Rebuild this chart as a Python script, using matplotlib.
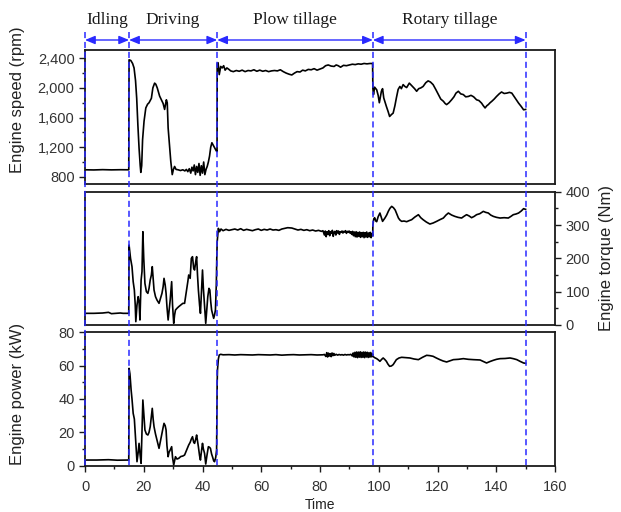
import matplotlib
matplotlib.use("Agg")
import matplotlib.pyplot as plt
import matplotlib.transforms as mtransforms
from matplotlib.lines import Line2D
from matplotlib.patches import FancyArrowPatch
from matplotlib.ticker import MultipleLocator, FuncFormatter

plt.rcParams['font.family'] = ['Liberation Sans', 'DejaVu Sans']

# ---------------- data ----------------
phase_names = ["Idling", "Driving", "Plow tillage", "Rotary tillage"]
phase_bounds = [0, 15, 45, 98, 150]

speed_t = [0, 3, 6, 9, 12, 14.9,
           15.0, 15.6, 16.2, 16.7, 17.2, 17.6, 18.0, 18.4, 18.8, 19.0, 19.3, 19.6, 20.1, 20.7, 21.3, 21.8,
           22.6, 23.1, 23.7, 24.1, 24.6, 25.4, 26.0, 26.6, 27.1, 27.7, 28.0, 28.3, 28.8, 29.2, 29.7, 30.1,
           30.5, 31.0, 31.7, 32.5, 33.3, 34.0, 34.5, 35.0, 35.5, 36.0, 36.4, 36.8, 37.2, 37.6, 38.0, 38.4,
           38.8, 39.2, 39.6, 40.0, 40.4, 40.8, 41.2, 41.6, 42.0, 42.4, 42.8, 43.2, 43.6, 44.1, 44.7, 44.95,
           45.0, 45.3, 45.7, 46.2, 46.7, 47.2, 47.7, 48.3, 49.0, 49.6, 50.5, 51.5, 52.5, 53.5, 54.5, 55.5,
           56.5, 57.5, 58.5, 59.5, 60.5, 61.5, 62.5, 63.5, 64.5, 65.5, 66.5, 67.5, 68.5, 69.5, 70.4, 71.3,
           72.2, 73.2, 74.1, 75.0, 76.0, 77.0, 78.0, 79.0, 80.0, 81.0, 81.9, 82.8, 83.8, 84.8, 85.5, 86.2,
           87.0, 88.0, 89.0, 90.0, 91.0, 92.0, 93.0, 94.0, 95.0, 96.0, 97.0, 97.9,
           98.0, 98.2, 98.6, 99.3, 99.8, 100.2, 100.9, 101.3, 101.7, 102.2, 102.6, 103.2, 103.7, 104.3,
           104.9, 105.5, 106.0, 106.6, 107.2, 107.7, 108.3, 108.9, 109.5, 110.0, 110.4, 111.0, 111.5,
           112.2, 112.9, 113.6, 114.3, 115.1, 116.0, 116.8, 117.6, 118.5, 119.4, 120.3, 121.1, 122.0,
           122.6, 123.1, 123.9, 124.8, 125.6, 126.3, 127.1, 127.9, 128.8, 129.6, 130.5, 131.4, 132.3,
           133.3, 134.1, 135.0, 135.6, 136.2, 136.8, 137.3, 137.9, 138.5, 139.3, 140.1, 141.0, 141.8,
           142.7, 143.6, 144.5, 145.3, 145.9, 146.4, 147.0, 147.6, 148.5, 149.3, 150.0]
speed_v = [895, 893, 897, 894, 896, 895,
           2380, 2370, 2330, 2270, 2100, 1860, 1500, 1190, 950, 860, 950, 1300, 1550, 1730, 1780, 1800,
           1860, 2000, 2065, 2050, 2000, 1890, 1840, 1790, 1710, 1840, 1800, 1460, 1200, 1010, 830, 900,
           940, 900, 895, 885, 895, 880, 900, 870, 910, 850, 930, 880, 960, 830, 940, 860,
           980, 820, 950, 850, 1000, 830, 900, 940, 1000, 1080, 1200, 1260, 1230, 1190, 1150, 1140,
           2330, 2340, 2180, 2290, 2270, 2300, 2240, 2270, 2250, 2230, 2220, 2235, 2225, 2240, 2220, 2235,
           2230, 2245, 2225, 2240, 2225, 2235, 2220, 2230, 2235, 2230, 2245, 2220, 2200, 2185, 2175, 2200,
           2220, 2215, 2240, 2230, 2250, 2245, 2260, 2240, 2255, 2270, 2300, 2310, 2295, 2290, 2310, 2300,
           2280, 2305, 2300, 2310, 2320, 2315, 2325, 2320, 2330, 2325, 2330, 2330,
           2000, 1910, 2010, 1975, 1900, 1800, 1955, 1990, 1865, 1800, 1750, 1680, 1615, 1640,
           1660, 1760, 1865, 1980, 2020, 1990, 2045, 2020, 2005, 2040, 2065, 2040, 2020,
           1990, 1955, 1990, 2000, 2020, 2070, 2095, 2080, 2045, 1980, 1910, 1850, 1820,
           1790, 1775, 1800, 1840, 1880, 1930, 1955, 1920, 1910, 1880, 1885, 1900, 1880,
           1840, 1830, 1795, 1760, 1730, 1760, 1775, 1800, 1820, 1850, 1885, 1920, 1945,
           1925, 1930, 1940, 1930, 1895, 1865, 1830, 1795, 1750, 1705, 1710]

torque_t = [0, 3, 6, 8, 9, 12, 13, 14.9,
            15.0, 15.5, 16.0, 16.4, 16.8, 17.1, 17.3, 17.7, 18.1, 18.4, 18.7, 19.1, 19.4, 19.7, 20.0, 20.4,
            20.9, 21.4, 21.8, 22.2, 22.6, 22.9, 23.2, 23.5, 24.0, 24.5, 25.2, 25.7, 26.2, 26.6, 26.9, 27.3,
            27.6, 27.9, 28.3, 28.6, 29.0, 29.5, 29.8, 30.2, 30.5, 30.8, 31.3, 31.9, 32.6, 33.3, 33.9, 34.5,
            35.0, 35.3, 35.8, 36.2, 36.6, 37.0, 37.3, 37.7, 38.0, 38.3, 38.6, 39.0, 39.3, 39.6, 40.0, 40.3,
            40.7, 41.1, 41.5, 41.8, 42.2, 42.5, 42.8, 43.1, 43.5, 43.8, 44.1, 44.4, 44.7, 44.85,
            45.0, 45.2, 45.4, 45.8, 46.3, 47.0, 48.0, 49.0, 50.0, 51.0, 52.0, 53.0, 54.0, 55.0, 56.0, 57.0,
            58.0, 59.0, 60.0, 61.0, 62.0, 63.0, 64.0, 65.0, 66.0, 67.0, 68.0, 69.0, 70.4, 71.5, 72.5, 73.5,
            74.5, 75.5, 76.5, 77.5, 78.5, 79.5, 80.5, 81.0,
            81.5, 81.8, 82.1, 82.4, 82.7, 83.0, 83.3, 83.6, 83.9, 84.2, 84.5, 84.8, 85.1, 85.4, 85.7, 86.0,
            86.3, 86.6, 86.9, 87.2, 87.5, 87.8, 88.1, 88.4, 88.7, 89.0, 89.3, 89.6, 89.9, 90.2, 90.5, 90.8,
            91.1, 91.4, 91.7, 92.0, 92.3, 92.6, 92.9, 93.2, 93.5, 93.8, 94.1, 94.4, 94.7, 95.0, 95.3, 95.6,
            95.9, 96.2, 96.5, 96.8, 97.1, 97.4, 97.7, 97.95,
            98.0, 98.3, 98.6, 99.0, 99.3, 99.8, 100.4, 100.9, 101.3, 101.7, 102.1, 102.7, 103.3, 103.8,
            104.4, 105.0, 105.6, 106.2, 106.7, 107.2, 107.8, 108.6, 109.5, 110.3, 111.2, 112.3, 113.5,
            114.3, 115.1, 116.2, 117.4, 118.5, 119.7, 120.8, 122.0, 122.9, 123.7, 124.8, 125.9, 127.0,
            128.2, 129.0, 129.9, 130.8, 131.6, 132.5, 133.3, 134.4, 135.6, 136.4, 137.3, 138.1, 139.0,
            140.1, 141.3, 142.7, 144.1, 145.0, 145.8, 146.7, 147.6, 148.5, 149.3, 150.0]
torque_v = [35, 35, 36, 38, 34, 36, 35, 35,
            240, 200, 175, 130, 105, 60, 10, 60, 85, 70, 15, 135, 160, 280, 200, 125,
            100, 95, 110, 135, 150, 175, 140, 105, 85, 75, 65, 80, 95, 115, 140, 120,
            95, 55, 15, 40, 75, 130, 60, 5, 30, 45, 50, 55, 60, 65, 65, 100,
            130, 150, 140, 200, 205, 170, 165, 190, 205, 150, 105, 60, 35, 90, 165, 110,
            55, 5, 50, 85, 110, 105, 70, 45, 30, 20, 30, 45, 120, 195,
            250, 270, 290, 280, 288, 283, 287, 284, 286, 288, 285, 289, 284, 287, 285, 283,
            286, 288, 284, 287, 285, 288, 285, 286, 284, 288, 290, 292, 291, 288, 285, 287,
            284, 286, 283, 285, 282, 284, 281, 283,
            270, 282, 265, 280, 272, 283, 268, 280, 275, 284, 266, 279, 281, 270, 283, 276,
            282, 272, 280, 278, 282, 276, 281, 279, 283, 275, 281, 278, 282, 276, 280, 272,
            281, 268, 279, 265, 280, 264, 278, 266, 279, 263, 277, 265, 278, 262, 277, 264,
            279, 263, 276, 265, 278, 262, 275, 268,
            300, 318, 322, 312, 310, 325, 336, 322, 311, 316, 321, 330, 342, 350,
            356, 352, 345, 332, 321, 315, 311, 312, 310, 313, 316, 324, 331,
            322, 316, 309, 303, 306, 311, 316, 321, 330, 336, 330, 326, 323,
            321, 326, 331, 327, 322, 326, 331, 334, 341, 338, 336, 330, 326,
            323, 321, 322, 321, 326, 331, 333, 336, 342, 349, 347]

power_t = [0, 4, 8, 11, 14.9,
           15.0, 15.3, 15.7, 16.0, 16.4, 16.8, 17.1, 17.4, 17.7, 18.1, 18.4, 18.8, 19.1, 19.4, 19.7, 20.0,
           20.4, 20.9, 21.4, 21.8, 22.2, 22.6, 22.9, 23.2, 23.5, 24.0, 24.5, 25.2, 25.7, 26.2, 26.6, 26.9,
           27.3, 27.6, 27.9, 28.3, 28.6, 29.0, 29.5, 29.8, 30.2, 30.5, 30.8, 31.3, 31.9, 32.6, 33.3, 33.9,
           34.5, 35.0, 35.3, 35.8, 36.2, 36.6, 37.0, 37.3, 37.7, 38.0, 38.3, 38.6, 39.0, 39.3, 39.6, 40.0,
           40.3, 40.7, 41.1, 41.5, 42.0, 42.4, 42.7, 43.1, 43.4, 43.8, 44.1, 44.5, 44.8,
           45.0, 45.1, 45.4, 45.7, 46.2, 47, 49, 51, 53, 55, 57, 59, 61, 63, 65, 67, 69, 71, 73, 75, 77,
           79, 81, 81.5, 82, 82.3, 82.6, 82.9, 83.2, 83.5, 83.8, 84.1, 84.4, 84.7, 85, 85.5, 86, 86.5,
           87, 87.5, 88, 88.5, 89, 89.5, 90, 90.5, 91, 91.3, 91.6, 91.9, 92.2, 92.5, 92.8, 93.1, 93.4,
           93.7, 94, 94.3, 94.6, 94.9, 95.2, 95.5, 95.8, 96.1, 96.4, 96.7, 97, 97.3, 97.6, 97.9,
           98.0, 98.6, 99.3, 99.9, 100.4, 101.0, 101.5, 102.0, 102.6, 103.1, 103.7, 104.3, 104.9, 105.5,
           106.0, 106.9, 107.8, 109.2, 110.6, 112.0, 113.5, 114.9, 116.3, 117.4, 118.5, 119.6, 120.8,
           121.9, 123.1, 124.2, 125.4, 127.1, 128.8, 130.5, 132.2, 134.5, 136.7, 137.9, 139.0, 140.1,
           141.3, 143.0, 144.7, 145.8, 147.0, 148.2, 149.3, 150.0]
power_v = [3.4, 3.4, 3.6, 3.3, 3.4,
           58.4, 55, 45.4, 40, 31.4, 28, 19.4, 10, 2.4, 8, 13.4, 6, 1.4, 20, 39.4, 32,
           21.4, 19, 18.4, 20, 23.4, 30, 34.4, 28, 23.4, 19, 15.4, 10.4, 15, 19.4, 23, 25.4,
           24, 21.4, 12, 5.4, 8, 9.4, 11.4, 5, 0.4, 3, 5.4, 4, 4.4, 5.5, 5.8, 6.4,
           9, 11, 12.4, 14, 16, 17.4, 14, 13.4, 16, 18.4, 15, 11.4, 6, 3.4, 8, 13.4,
           10, 7.4, 1, 6, 11.4, 11, 10.4, 7, 5.4, 3, 2.4, 5, 9.4,
           50, 57.4, 64, 66.4, 66.8, 66.5, 66.6, 66.4, 66.6, 66.5, 66.4, 66.6, 66.5, 66.4, 66.6, 66.3, 66.5,
           66.6, 66.4, 66.5, 66.6,
           66.4, 66.5, 66.7, 65.5, 67.8, 65.2, 67.5, 65.8, 67.2, 65.4, 67.6, 66.0, 67.3, 66.2, 66.8, 66.3,
           66.7, 66.4, 66.6, 66.3, 66.7, 66.4, 66.6, 66.5, 66.8, 65.8, 67.6, 65.2, 68.0, 65.0, 68.2, 64.8,
           68.1, 65.1, 68.3, 64.9, 68.0, 65.0, 68.2, 64.8, 68.1, 65.2, 68.0, 64.9, 67.8, 65.1, 67.9, 65.3,
           67.0,
           65.6, 64.8, 64.2, 63.4, 62.6, 63.8, 64.6, 63.8, 62.6, 61.0, 59.6, 59.8, 60.6, 62.3,
           63.6, 64.6, 65.0, 64.8, 64.6, 64.0, 63.6, 65.0, 66.2, 66.0, 65.6, 64.6, 63.6,
           62.8, 62.2, 62.9, 63.6, 63.8, 64.2, 63.8, 63.6, 63.4, 61.6, 62.5, 63.2, 63.8,
           64.2, 64.3, 64.6, 64.2, 63.6, 62.5, 61.6, 61.4]

# ---------------- figure ----------------
W, H = 621, 512
fig = plt.figure(figsize=(W / 100, H / 100), dpi=100)

def fy(py):
    return 1 - py / H

left, right = 85 / W, 555 / W
ax1 = fig.add_axes([left, fy(183.5), right - left, fy(50) - fy(183.5)])
ax2 = fig.add_axes([left, fy(325), right - left, fy(191.7) - fy(325)])
ax3 = fig.add_axes([left, fy(465.7), right - left, fy(332.3) - fy(465.7)])

tick_color = '#333333'
for ax in (ax1, ax2, ax3):
    ax.set_xlim(0, 160)
    for s in ax.spines.values():
        s.set_linewidth(1.3)
        s.set_color('#1a1a1a')
    ax.tick_params(which='both', direction='out', color='#1a1a1a', labelsize=10.5,
                   labelcolor=tick_color, width=1.0)
    ax.tick_params(which='major', length=4)
    ax.tick_params(which='minor', length=2)

line_kw = dict(color='black', lw=1.2)
ax1.plot(speed_t, speed_v, **line_kw)
ax2.plot(torque_t, torque_v, **line_kw)
ax3.plot(power_t, power_v, **line_kw)

# panel 1
ax1.set_ylim(710, 2512)
ax1.yaxis.set_major_locator(MultipleLocator(400))
ax1.yaxis.set_minor_locator(MultipleLocator(200))
ax1.yaxis.set_major_formatter(FuncFormatter(lambda v, p: f"{int(v):,}"))
ax1.set_xticks([])
ax1.tick_params(axis='x', which='both', bottom=False, labelbottom=False)

# panel 2
ax2.set_ylim(0, 400)
ax2.yaxis.tick_right()
ax2.yaxis.set_major_locator(MultipleLocator(100))
ax2.yaxis.set_minor_locator(MultipleLocator(50))
ax2.set_xticks([])
ax2.tick_params(axis='x', which='both', bottom=False, labelbottom=False)

# panel 3
ax3.set_ylim(0, 80)
ax3.yaxis.set_major_locator(MultipleLocator(20))
ax3.yaxis.set_minor_locator(MultipleLocator(10))
ax3.xaxis.set_major_locator(MultipleLocator(20))
ax3.xaxis.set_minor_locator(MultipleLocator(10))
ax3.tick_params(axis='x', which='major', pad=6)

# axis labels
lab_kw = dict(fontsize=12, color='#222222', rotation=90, ha='center', va='center')
fig.text(18 / W, fy(100), "Engine speed (rpm)", **lab_kw)
fig.text(18 / W, fy(394), "Engine power (kW)", **lab_kw)
fig.text(607 / W, fy(258), "Engine torque (Nm)", **lab_kw)
fig.text(0.515, fy(505), "Time", fontsize=10, color='#222222', ha='center', va='center')

# phase boundaries, arrows and names
blend = mtransforms.blended_transform_factory(ax3.transData, fig.transFigure)
blue = '#2a2aff'
for xb in phase_bounds:
    fig.add_artist(Line2D([xb, xb], [fy(32), fy(466)], transform=blend, color=blue,
                          lw=1.1, linestyle=(0, (4, 2.5)), zorder=10))
arrow_y = fy(40)
for i, name in enumerate(phase_names):
    x0, x1 = phase_bounds[i], phase_bounds[i + 1]
    fig.add_artist(FancyArrowPatch((x0, arrow_y), (x1, arrow_y), transform=blend,
                                   arrowstyle='<|-|>,head_length=0.6,head_width=0.25',
                                   mutation_scale=10, color=blue, lw=1.0,
                                   shrinkA=0, shrinkB=0, zorder=11))
    fig.text((x0 + x1) / 2, fy(20), name, transform=blend, ha='center', va='center',
             fontsize=12.5, family=['Liberation Serif', 'DejaVu Serif'], color='#1a1a1a')

fig.savefig("out.png", dpi=100)
